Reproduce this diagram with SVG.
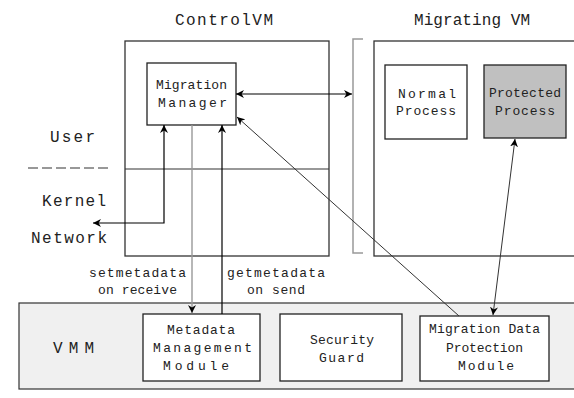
<svg xmlns="http://www.w3.org/2000/svg" width="574" height="398" viewBox="0 0 574 398">
<defs>
<marker id="ah" viewBox="0 0 10 10" refX="10" refY="5" markerWidth="8" markerHeight="8" markerUnits="userSpaceOnUse" orient="auto-start-reverse">
<path d="M0,0 L10,5 L0,10 L3,5 z" fill="#000"/>
</marker>
</defs>
<style>
text{font-family:"Liberation Mono","DejaVu Sans Mono",monospace;fill:#222;lengthAdjust:spacing}
.t{font-size:16px}
.s{font-size:13px}
.box{fill:#fff;stroke:#222;stroke-width:1.3}
.c{fill:none;stroke:#000;stroke-width:1.2}
</style>
<rect width="574" height="398" fill="#fff"/>
<g id="labels">
<text class="t" x="175" y="25" textLength="98" lengthAdjust="spacing">ControlVM</text>
<text class="t" x="414" y="25" textLength="116" lengthAdjust="spacing">Migrating VM</text>
<text class="t" x="50" y="142" textLength="45" lengthAdjust="spacing">User</text>
<line x1="28" y1="168" x2="108" y2="168" stroke="#333" stroke-width="1.2" stroke-dasharray="10,4"/>
<text class="t" x="42" y="206" textLength="64" lengthAdjust="spacing">Kernel</text>
<text class="t" x="31" y="243" textLength="76" lengthAdjust="spacing">Network</text>
<text class="s" x="89" y="277" textLength="97" lengthAdjust="spacing">setmetadata</text>
<text class="s" x="98" y="294" textLength="79" lengthAdjust="spacing">on receive</text>
<text class="s" x="227" y="277" textLength="98" lengthAdjust="spacing">getmetadata</text>
<text class="s" x="247" y="294" textLength="58" lengthAdjust="spacing">on send</text>
</g>
<g id="vmm">
<rect x="19" y="303" width="560" height="86" fill="#f0f0f0" stroke="#333" stroke-width="1.2"/>
<text class="t" x="53" y="353" textLength="41" lengthAdjust="spacing">VMM</text>
</g>
<g id="controlvm">
<rect x="125" y="41" width="204" height="215" fill="none" stroke="#333" stroke-width="1.3"/>
<line x1="125" y1="169" x2="329" y2="169" stroke="#333" stroke-width="1.2"/>
</g>
<g id="bracket">
<path d="M363,39 H353 V253 H363" fill="none" stroke="#999" stroke-width="1.5"/>
</g>
<g id="migratingvm">
<rect x="374" y="41" width="210" height="215" fill="none" stroke="#333" stroke-width="1.3"/>
</g>
<g id="migration-manager">
<rect class="box" x="147" y="63" width="89" height="62"/>
<text class="s" x="156" y="89" textLength="71" lengthAdjust="spacing">Migration</text>
<text class="s" x="158" y="107" textLength="69" lengthAdjust="spacing">Manager</text>
</g>
<g id="normal-process">
<rect class="box" x="385" y="65" width="82" height="74"/>
<text class="s" x="398" y="98" textLength="58" lengthAdjust="spacing">Normal</text>
<text class="s" x="396" y="115" textLength="60" lengthAdjust="spacing">Process</text>
</g>
<g id="protected-process">
<rect x="484" y="65" width="82" height="73" fill="#c0c0c0" stroke="#222" stroke-width="1.3"/>
<text class="s" x="489" y="97" textLength="72" lengthAdjust="spacing">Protected</text>
<text class="s" x="495" y="115" textLength="60" lengthAdjust="spacing">Process</text>
</g>
<g id="metadata-module">
<rect class="box" x="143" y="314" width="117" height="67"/>
<text class="s" x="167" y="334" textLength="68" lengthAdjust="spacing">Metadata</text>
<text class="s" x="153" y="352" textLength="99" lengthAdjust="spacing">Management</text>
<text class="s" x="163" y="370" textLength="66" lengthAdjust="spacing">Module</text>
</g>
<g id="security-guard">
<rect class="box" x="280" y="314" width="122" height="67"/>
<text class="s" x="310" y="344" textLength="64" lengthAdjust="spacing">Security</text>
<text class="s" x="319" y="362" textLength="45" lengthAdjust="spacing">Guard</text>
</g>
<g id="mdpm">
<rect class="box" x="420" y="316" width="129" height="65"/>
<text class="s" x="429" y="333" textLength="111" lengthAdjust="spacing">Migration Data</text>
<text class="s" x="446" y="352" textLength="77" lengthAdjust="spacing">Protection</text>
<text class="s" x="458" y="370" textLength="56" lengthAdjust="spacing">Module</text>
</g>
<g id="connectors">
<line class="c" x1="236" y1="94" x2="352" y2="94" marker-start="url(#ah)" marker-end="url(#ah)"/>
<path class="c" d="M164,125 V223 H93" marker-start="url(#ah)" marker-end="url(#ah)"/>
<line x1="192" y1="125" x2="192" y2="313" stroke="#999" stroke-width="1.4" marker-end="url(#ah)"/>
<line class="c" x1="222" y1="314" x2="222" y2="125" marker-end="url(#ah)"/>
<line x1="459" y1="316" x2="237" y2="117" stroke="#333" stroke-width="1" marker-end="url(#ah)"/>
<line x1="515" y1="139" x2="493" y2="315" stroke="#333" stroke-width="1" marker-start="url(#ah)" marker-end="url(#ah)"/>
</g>
</svg>
